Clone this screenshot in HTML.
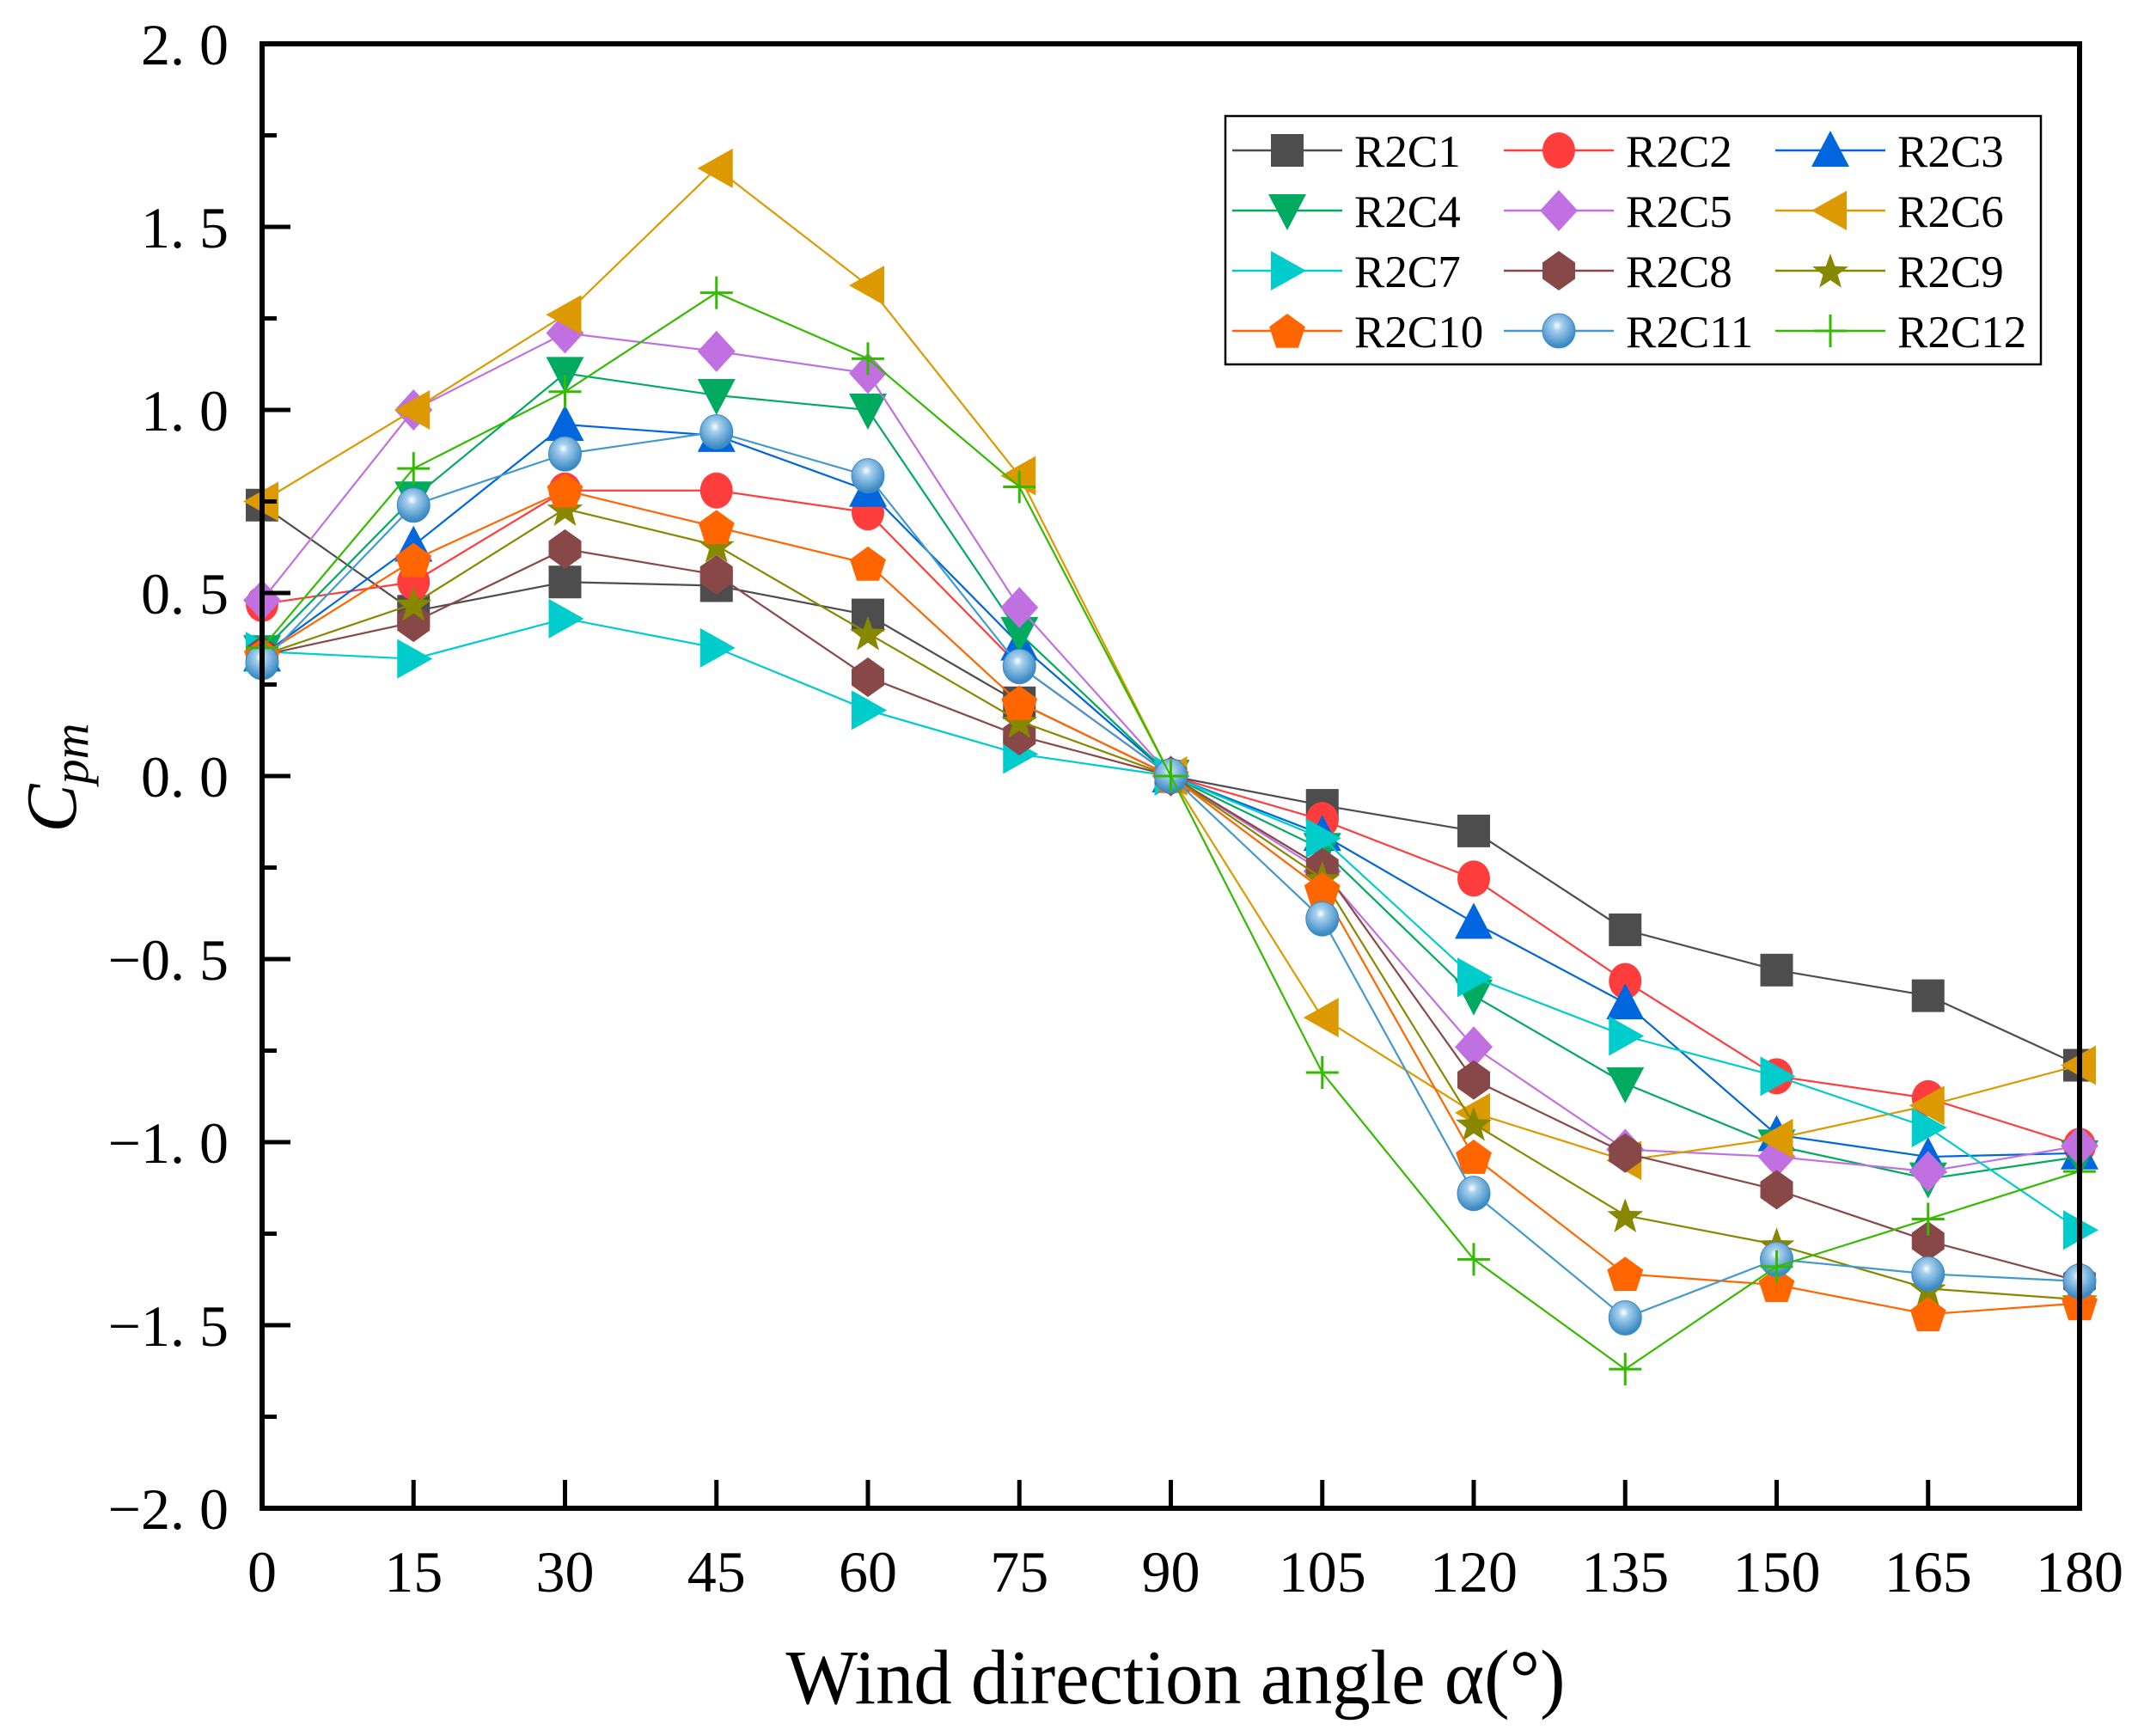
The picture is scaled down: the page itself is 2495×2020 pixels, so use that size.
<!DOCTYPE html>
<html><head><meta charset="utf-8"><style>
html,body{margin:0;padding:0;background:#fff}
svg{display:block}
text{font-family:"Liberation Serif",serif;fill:#000}
</style></head><body>
<svg id="chart" width="2495" height="2020" xmlns="http://www.w3.org/2000/svg"></svg>
<script>
const xValues=[0,15,30,45,60,75,90,105,120,135,150,165,180];
const xTickLabels=["0","15","30","45","60","75","90","105","120","135","150","165","180"];
const yTickValues=[2,1.5,1,0.5,0,-0.5,-1,-1.5,-2];
const yTickLabels=["2. 0","1. 5","1. 0","0. 5","0. 0","\u22120. 5","\u22121. 0","\u22121. 5","\u22122. 0"];
const seriesNames=["R2C1","R2C2","R2C3","R2C4","R2C5","R2C6","R2C7","R2C8","R2C9","R2C10","R2C11","R2C12"];
const r2c1=[0.74,0.45,0.53,0.52,0.44,0.2,0,-0.08,-0.15,-0.42,-0.53,-0.6,-0.79];
const r2c2=[0.47,0.53,0.78,0.78,0.72,0.3,0,-0.12,-0.28,-0.56,-0.82,-0.88,-1.01];
const r2c3=[0.33,0.63,0.96,0.93,0.78,0.36,0,-0.16,-0.4,-0.62,-0.98,-1.04,-1.03];
const r2c4=[0.34,0.76,1.1,1.04,1.0,0.39,0,-0.2,-0.6,-0.84,-1.01,-1.1,-1.04];
const r2c5=[0.48,1.0,1.21,1.16,1.1,0.46,0,-0.26,-0.74,-1.02,-1.04,-1.08,-1.01];
const r2c6=[0.75,1.0,1.26,1.66,1.34,0.82,0,-0.66,-0.92,-1.05,-0.99,-0.9,-0.79];
const r2c7=[0.34,0.32,0.43,0.35,0.18,0.06,0,-0.17,-0.55,-0.71,-0.82,-0.96,-1.24];
const r2c8=[0.33,0.42,0.62,0.55,0.27,0.11,0,-0.25,-0.83,-1.03,-1.13,-1.27,-1.38];
const r2c9=[0.33,0.47,0.73,0.63,0.39,0.15,0,-0.28,-0.95,-1.2,-1.28,-1.4,-1.43];
const r2c10=[0.33,0.59,0.78,0.68,0.58,0.2,0,-0.31,-1.04,-1.36,-1.39,-1.47,-1.44];
const r2c11=[0.31,0.74,0.88,0.94,0.82,0.3,0,-0.39,-1.14,-1.48,-1.32,-1.36,-1.38];
const r2c12=[0.35,0.84,1.05,1.32,1.14,0.79,0,-0.81,-1.32,-1.62,-1.34,-1.21,-1.08];
const allSeries=[r2c1,r2c2,r2c3,r2c4,r2c5,r2c6,r2c7,r2c8,r2c9,r2c10,r2c11,r2c12];
const colors=["#4d4d4d","#ff3d3d","#0066dd","#00aa60","#c070e0","#dd9900","#00cccc","#884848","#888800","#ff6600","#4499cc","#33bb00"];
const shapes=["square","circle","up","down","diamond","left","right","hex","star","pent","sphere","plus"];

const L=305,R=2420,T=51,B=1755;
const xs=v=>L+(v-0)/(180-0)*(R-L);
const ys=v=>T+(2-v)/4*(B-T);
const NS="http://www.w3.org/2000/svg";
const svg=document.getElementById('chart');
function mk(tag,attrs,parent){const e=document.createElementNS(NS,tag);for(const k in attrs)e.setAttribute(k,attrs[k]);(parent||svg).appendChild(e);return e;}

const defs=mk('defs',{});
const rg=mk('radialGradient',{id:'sph',cx:'0.45',cy:'0.35',r:'0.6'},defs);
mk('stop',{offset:'0','stop-color':'#ffffff'},rg);
mk('stop',{offset:'0.25','stop-color':'#a8d0ee'},rg);
mk('stop',{offset:'1','stop-color':'#3a8ac4'},rg);

function marker(shape,cx,cy,color,g){
  const s=19;let e;
  const poly=pts=>mk('polygon',{points:pts.map(p=>(cx+p[0])+','+(cy+p[1])).join(' '),fill:color},g);
  switch(shape){
    case 'square':e=mk('rect',{x:cx-s,y:cy-s,width:2*s,height:2*s,fill:color},g);break;
    case 'circle':e=mk('ellipse',{cx:cx,cy:cy,rx:s,ry:s+2,fill:color},g);break;
    case 'up':e=poly([[0,-s-4],[s+3,s],[-s-3,s]]);break;
    case 'down':e=poly([[0,s+4],[s+3,-s],[-s-3,-s]]);break;
    case 'diamond':e=poly([[0,-s-5],[s+3,0],[0,s+5],[-s-3,0]]);break;
    case 'left':e=poly([[-s-3,0],[s,-s-4],[s,s+4]]);break;
    case 'right':e=poly([[s+3,0],[-s,-s-4],[-s,s+4]]);break;
    case 'hex':e=poly([[0,-s-4],[s,-s/2],[s,s/2],[0,s+4],[-s,s/2],[-s,-s/2]]);break;
    case 'pent':{const p=[];for(let i=0;i<5;i++){const a=-Math.PI/2+i*2*Math.PI/5;p.push([(s+3)*Math.cos(a),(s+3)*Math.sin(a)+2]);}e=poly(p);break;}
    case 'star':{const p=[];for(let i=0;i<10;i++){const a=-Math.PI/2+i*Math.PI/5;const r=i%2?9:s+3;p.push([r*Math.cos(a),r*Math.sin(a)+2]);}e=poly(p);break;}
    case 'sphere':e=mk('ellipse',{cx:cx,cy:cy,rx:s,ry:s+1,fill:'url(#sph)',stroke:'#3a8ac4','stroke-width':1},g);break;
    case 'plus':e=mk('path',{d:`M${cx-s} ${cy}H${cx+s}M${cx} ${cy-s}V${cy+s}`,stroke:color,'stroke-width':3,fill:'none'},g);break;
  }
  return e;
}

allSeries.forEach((vals,si)=>{
  const g=mk('g',{});
  
  
  const line=mk('polyline',{points:vals.map((v,i)=>xs(xValues[i])+','+ys(v)).join(' '),fill:'none',stroke:colors[si],'stroke-width':2.2},g);
  
  
  vals.forEach((v,i)=>{
    const m=marker(shapes[si],xs(xValues[i]),ys(v),colors[si],g);
    
    
  });
});

const frame=mk('rect',{x:L,y:T,width:R-L,height:B-T,fill:'none',stroke:'#000','stroke-width':6});



xValues.forEach((v,i)=>{
  const x=xs(v);
  if(i>0&&i<xValues.length-1){const t=mk('line',{x1:x,y1:B,x2:x,y2:B-33,stroke:'#000','stroke-width':5});
  }
  const lb=mk('text',{x:x,y:1852,'font-size':68,'text-anchor':'middle'});
  lb.textContent=xTickLabels[i];
  
  
});
yTickValues.forEach((v,i)=>{
  const y=ys(v);
  if(i>0&&i<yTickValues.length-1){const t=mk('line',{x1:L,y1:y,x2:L+33,y2:y,stroke:'#000','stroke-width':5});
  }
  if(i<yTickValues.length-1){const m=mk('line',{x1:L,y1:y+106.5,x2:L+17,y2:y+106.5,stroke:'#000','stroke-width':5});
  }
  const lb=mk('text',{x:266,y:y+24,'font-size':68,'text-anchor':'end'});
  lb.textContent=yTickLabels[i];
  
  
});

const xt=mk('text',{x:1368,y:1982,'font-size':90,'text-anchor':'middle',textLength:907,lengthAdjust:'spacingAndGlyphs'});
xt.textContent='Wind direction angle \u03b1(\u00b0)';


const yt=mk('text',{x:0,y:0,'font-size':84,'font-style':'italic','text-anchor':'middle',transform:'translate(88,905) rotate(-90)'});


const c=mk('tspan',{},yt);c.textContent='C';
const sub=mk('tspan',{'font-size':58,dy:14},yt);sub.textContent='pm';

const lg=mk('g',{});


mk('rect',{x:1426,y:135,width:949,height:289,fill:'#fff',stroke:'#000','stroke-width':2.5},lg);
const colX=[1434,1750,2066],rowY=[175,245,315,385];
seriesNames.forEach((n,i)=>{
  const cx=colX[i%3],cy=rowY[Math.floor(i/3)];
  const e=mk('g',{},lg);
  
  
  mk('line',{x1:cx,y1:cy,x2:cx+128,y2:cy,stroke:colors[i],'stroke-width':2.5},e);
  marker(shapes[i],cx+64,cy,colors[i],e);
  const t=mk('text',{x:cx+142,y:cy+19,'font-size':53},e);
  t.textContent=n;
});
</script>
</body></html>
